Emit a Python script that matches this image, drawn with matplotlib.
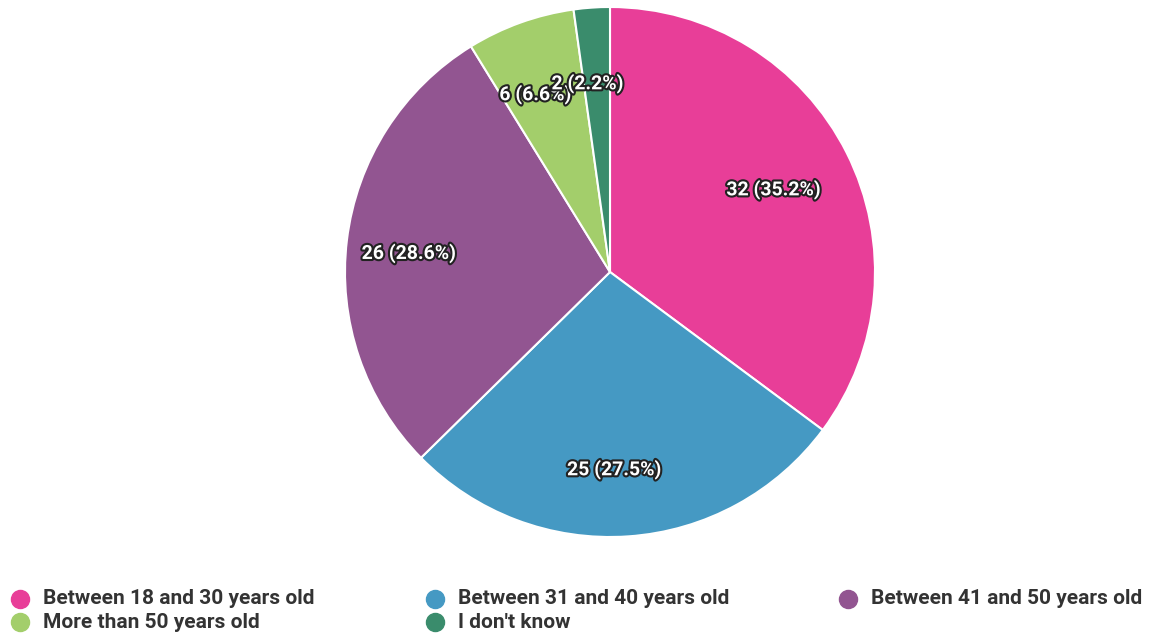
import matplotlib.pyplot as plt
import matplotlib.patheffects as pe
from matplotlib.lines import Line2D

labels = ['Between 18 and 30 years old', 'Between 31 and 40 years old',
          'Between 41 and 50 years old', 'More than 50 years old', "I don't know"]
counts = [32, 25, 26, 6, 2]
percents = [35.2, 27.5, 28.6, 6.6, 2.2]
colors = ['#E83E98', '#4599C3', '#925591', '#A3CE6B', '#3A8C6C']

plt.rcParams['font.family'] = ['Roboto', 'DejaVu Sans']

fig = plt.figure(figsize=(11.52, 6.35), dpi=100)
W, H = 1152, 635
cx, cy, r = 610, 272, 265
ax = fig.add_axes([(cx - r) / W, (H - cy - r) / H, 2 * r / W, 2 * r / H])

wedges, texts = ax.pie(counts, colors=colors, startangle=90, counterclock=False,
                       labels=[f'{c} ({p}%)' for c, p in zip(counts, percents)],
                       labeldistance=0.73,
                       wedgeprops=dict(edgecolor='white', linewidth=1.5))
for t in texts:
    x, y = t.get_position()
    t.set_position((x - 9 / r, y - 5 / r))
    t.set_ha('center')
    t.set_va('center')
    t.set_color('white')
    t.set_fontsize(14)
    t.set_fontweight('bold')
    t.set_path_effects([pe.withStroke(linewidth=3, foreground='#222222')])
ax.set_aspect('equal')
ax.set_xlim(-1, 1)
ax.set_ylim(-1, 1)

# legend, row-major, 3 columns
col_x = [20, 435, 848]
row_y = [599, 622]
for i, (lab, col) in enumerate(zip(labels, colors)):
    x = col_x[i % 3]
    y = row_y[i // 3]
    fig.add_artist(Line2D([x / W], [1 - y / H], marker='o', markersize=13,
                          color=col, linestyle='none', transform=fig.transFigure))
    fig.text((x + 23) / W, 1 - y / H, lab, fontsize=15, fontweight='bold',
             color='#333333', va='center', ha='left')

fig.savefig('out.png', dpi=100)
